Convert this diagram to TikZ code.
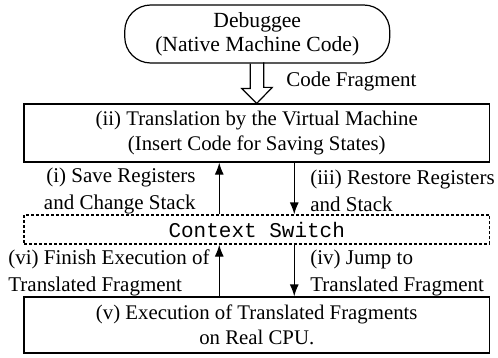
\documentclass[tikz,border=0pt]{standalone}
\usepackage{fontspec}
\setmainfont{Liberation Serif}
\setmonofont{Liberation Mono}
\usetikzlibrary{shapes,arrows,arrows.meta}
\tikzstyle{block} = [rectangle, draw, line width=0.6pt, minimum width=232.75pt, text centered, align=center, inner sep=0pt, font=\fontsize{10.4}{12.5}\selectfont]
\tikzstyle{line} = [draw, line width=0.6pt, -{Latex[length=6pt,width=4.5pt]}]
\tikzstyle{note} = [inner sep=0pt, font=\fontsize{10.5}{13.75}\selectfont]

\begin{document}
\begin{tikzpicture}[x=0.5pt,y=-0.5pt]
\useasboundingbox (0,0) rectangle (498,358);
\node [block, rounded corners=13pt, minimum width=132.5pt, minimum height=29pt, font=\fontsize{10.8}{12}\selectfont] (debuggee) at (257.25,34) {Debuggee\\(Native Machine Code)};
\node [block, minimum height=29pt] (translate) at (256.75,133) {(ii) Translation by the Virtual Machine\\(Insert Code for Saving States)};
\node [block, dash pattern=on 1.5pt off 1pt, minimum height=14.5pt, font=\fontsize{10.5}{13}\ttfamily] (switch) at (256.75,229.5) {Context Switch};
\node [block, minimum height=28pt] (execute) at (256.75,325) {(v) Execution of Translated Fragments\\on Real CPU.};
% hollow arrow for the fragment
\draw [line width=0.6pt] ([xshift=-3.5pt]debuggee.south) -- ++(0,25) -- ++(-8.5,0) -- (translate.north) -- ++(15.5,-16) -- ++(-8.5,0) -- ++(0,-25);
\node [note, anchor=west] (fragment) at (286,81) {Code Fragment};
% state transitions
\path [line] ([xshift=-18.75pt]switch.north) -- ([xshift=-18.75pt]translate.south);
\path [line] ([xshift=18.75pt]translate.south) -- ([xshift=18.75pt]switch.north);
\path [line] ([xshift=-18.75pt]execute.north) -- ([xshift=-18.75pt]switch.south);
\path [line] ([xshift=18.75pt]switch.south) -- ([xshift=18.75pt]execute.north);
\node [note, anchor=east, align=right] (save) at (196,191) {(i) Save Registers\\and Change Stack};
\node [note, anchor=west, align=left] (restore) at (310,191) {(iii) Restore Registers\\and Stack};
\node [note, anchor=west, align=left] (finish) at (8,273) {(vi) Finish Execution of\\Translated Fragment};
\node [note, anchor=west, align=left] (jump) at (310,273) {(iv) Jump to\\Translated Fragment};
\end{tikzpicture}
\end{document}
